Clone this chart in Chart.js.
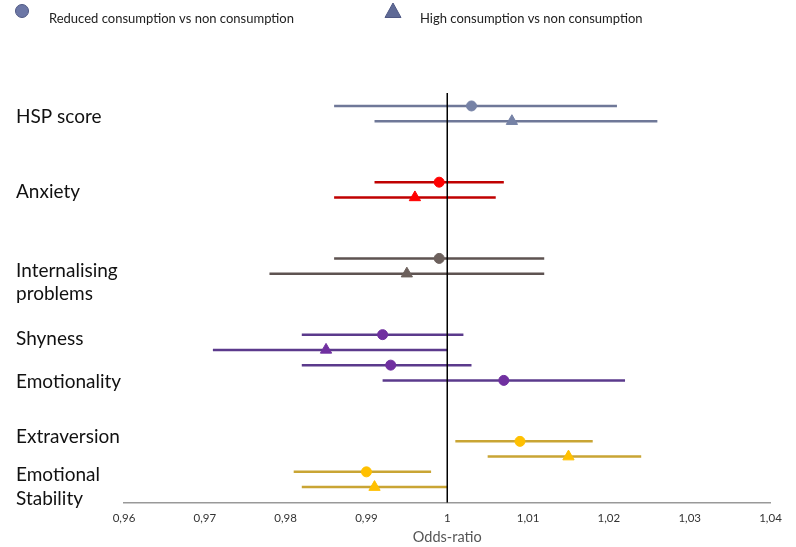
<!DOCTYPE html>
<html lang="en">
<head>
  <meta charset="UTF-8">
  <title>Odds-ratio forest plot</title>
  <script src="https://cdn.jsdelivr.net/npm/chart.js"></script>
  <style>
    body {margin:0; background:#fff;}
    #wrap {width:796px; height:547px;}
  </style>
</head>
<body>
<div id="wrap"><canvas id="grafico"></canvas></div>

<script>
// measures (labels on the left)
const measures = ['HSP score', 'Anxiety', ['Internalising', 'problems'], 'Shyness', 'Emotionality', 'Extraversion', ['Emotional', 'Stability']];
const labelRows = [0.72, 5.64, 11.57, 15.28, 18.1, 21.72, 25.0];

// reduced consumption vs non consumption
const reducedRows = [0, 5, 10, 15, 17, 22, 24];
const reducedOR = [1.003, 0.999, 0.999, 0.992, 0.993, 1.009, 0.990];
const reducedLo = [0.986, 0.991, 0.986, 0.982, 0.982, 1.001, 0.981];
const reducedHi = [1.021, 1.007, 1.012, 1.002, 1.003, 1.018, 0.998];

// high consumption vs non consumption
const highRows = [1, 6, 11, 16, 18, 23, 25];
const highOR = [1.008, 0.996, 0.995, 0.985, 1.007, 1.015, 0.991];
const highLo = [0.991, 0.986, 0.978, 0.971, 0.992, 1.005, 0.982];
const highHi = [1.026, 1.006, 1.012, 1.000, 1.022, 1.024, 1.000];
const highShapes = ['triangle', 'triangle', 'triangle', 'triangle', 'circle', 'triangle', 'triangle'];

const xTickLabels = ['0,96', '0,97', '0,98', '0,99', '1', '1,01', '1,02', '1,03', '1,04'];
const seriesNames = ['Reduced consumption vs non consumption', 'High consumption vs non consumption'];

const lineColors = ['#6f7898', '#c00000', '#5e5351', '#5b3a8c', '#5b3a8c', '#c9a534', '#c9a534'];
const markerColors = ['#7682a6', '#ff0000', '#6c605c', '#7030a0', '#7030a0', '#ffc000', '#ffc000'];

const X_MIN = 0.96, X_MAX = 1.04, Y_TOP = -0.85, Y_BOTTOM = 26.03;

const datasets = [];

datasets.push({
  label: seriesNames[0],
  data: reducedOR.map((v, i) => ({x: v, y: reducedRows[i]})),
  pointStyle: 'circle',
  pointRadius: 5,
  backgroundColor: markerColors,
  borderColor: markerColors,
  borderWidth: 1,
  showLine: false
});
datasets.push({
  label: seriesNames[1],
  data: highOR.map((v, i) => ({x: v, y: highRows[i]})),
  pointStyle: highShapes,
  pointRadius: highShapes.map(s => s === 'circle' ? 5 : 6.5),
  backgroundColor: markerColors,
  borderColor: markerColors,
  borderWidth: 1,
  showLine: false
});

// reference line at OR = 1
datasets.push({
  label: 'ref',
  data: [{x: 1, y: Y_TOP}, {x: 1, y: Y_BOTTOM}],
  showLine: true,
  borderColor: '#000',
  borderWidth: 1.5,
  pointRadius: 0
});

// confidence intervals
reducedRows.forEach((r, i) => {
  datasets.push({
    label: 'ci',
    data: [{x: reducedLo[i], y: r}, {x: reducedHi[i], y: r}],
    showLine: true,
    borderColor: lineColors[i],
    borderWidth: 2.5,
    pointRadius: 0
  });
});
highRows.forEach((r, i) => {
  datasets.push({
    label: 'ci',
    data: [{x: highLo[i], y: r}, {x: highHi[i], y: r}],
    showLine: true,
    borderColor: lineColors[i],
    borderWidth: 2.5,
    pointRadius: 0
  });
});

// legend at the top
const topLegend = {
  id: 'topLegend',
  afterDraw(chart) {
    const ctx = chart.ctx;
    const items = [
      {shape: 'circle', mx: 22, tx: 49, color: '#6c77a6', edge: '#4f5884'},
      {shape: 'triangle', mx: 393, tx: 420, color: '#5f6a96', edge: '#4f5884'}
    ];
    ctx.save();
    items.forEach((it, i) => {
      ctx.fillStyle = it.color;
      ctx.strokeStyle = it.edge;
      ctx.lineWidth = 1;
      ctx.beginPath();
      if (it.shape === 'circle') {
        ctx.arc(it.mx, 11, 6.5, 0, Math.PI * 2);
      } else {
        ctx.moveTo(it.mx, 3);
        ctx.lineTo(it.mx + 8, 17.5);
        ctx.lineTo(it.mx - 8, 17.5);
        ctx.closePath();
      }
      ctx.fill();
      ctx.stroke();
      ctx.fillStyle = '#222';
      ctx.font = '13px Lato';
      ctx.textBaseline = 'middle';
      ctx.textAlign = 'left';
      ctx.fillText(seriesNames[i], it.tx, 19);
    });
    ctx.restore();
  }
};

new Chart(document.getElementById('grafico'), {
  type: 'scatter',
  data: { datasets },
  plugins: [topLegend],
  options: {
    responsive: true,
    maintainAspectRatio: false,
    animation: false,
    layout: { padding: { top: 93, left: 16, right: 25.5, bottom: 1 } },
    scales: {
      x: {
        type: 'linear',
        min: X_MIN, max: X_MAX,
        grid: { display: false, drawTicks: false },
        border: { display: true, color: '#999', width: 1.5 },
        ticks: {
          stepSize: 0.01,
          padding: 9,
          color: '#333',
          font: { family: 'Lato', size: 11.5 },
          callback: (v, i) => xTickLabels[i]
        },
        title: {
          display: true, text: 'Odds-ratio', color: '#555',
          font: { family: 'Lato', size: 14.5 },
          padding: { top: -6, bottom: 0 }
        }
      },
      y: {
        type: 'linear',
        reverse: true,
        min: Y_TOP, max: Y_BOTTOM,
        grid: { display: false },
        border: { display: false },
        afterBuildTicks: scale => { scale.ticks = labelRows.map(v => ({value: v})); },
        afterFit: scale => { scale.width = 108; },
        ticks: {
          autoSkip: false,
          crossAlign: 'far',
          color: '#111',
          font: { family: 'Lato', size: 19, lineHeight: 1.25 },
          callback: (v, i) => measures[i]
        }
      }
    },
    plugins: {
      legend: { display: false },
      tooltip: { enabled: false }
    }
  }
});
</script>
</body>
</html>
